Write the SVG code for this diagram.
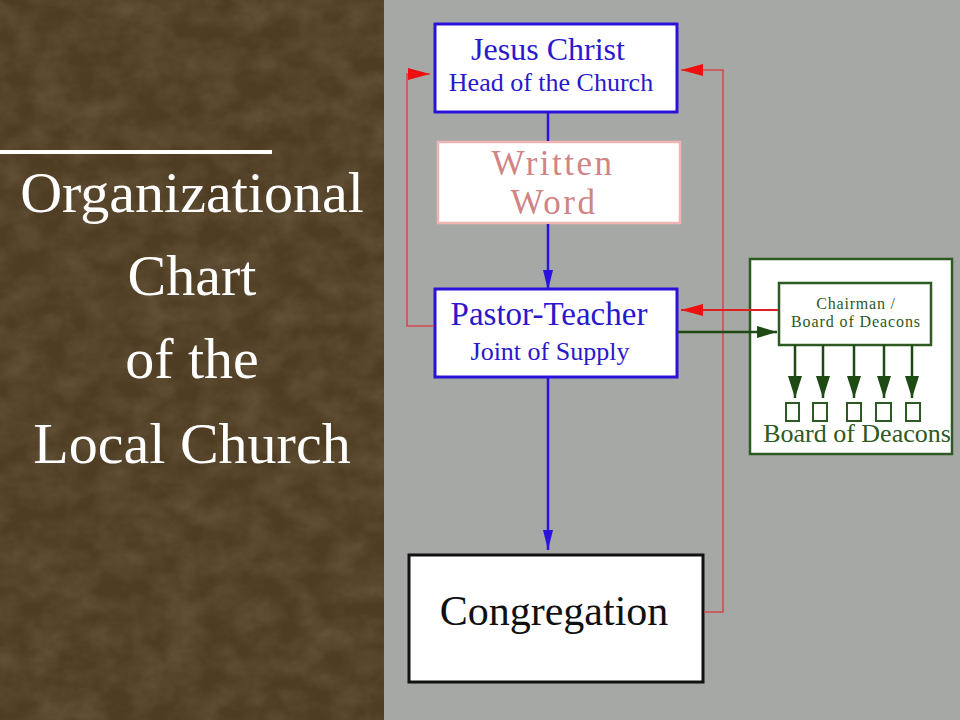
<svg xmlns="http://www.w3.org/2000/svg" width="960" height="720" viewBox="0 0 960 720">
<style>
.serif{font-family:"Liberation Serif","Times New Roman",serif}
.title{font-size:58px;fill:#ffffff;text-anchor:middle}
.blue{fill:#2a18cc;text-anchor:middle}
.green{fill:#2c5a22;text-anchor:middle}
.bline{stroke:#2a12e0;stroke-width:2.5;fill:none}
.rline{stroke:#d04848;stroke-width:1.5;fill:none}
.gline{stroke:#1e4a14;stroke-width:2.5;fill:none}
</style>
<defs>
<marker id="ab" viewBox="0 0 20 10" refX="20" refY="5" markerWidth="20" markerHeight="10" markerUnits="userSpaceOnUse" orient="auto"><path d="M0,0 L20,5 L0,10 z" fill="#2a12e0"/></marker>
<marker id="ar" viewBox="0 0 22 12" refX="22" refY="6" markerWidth="22" markerHeight="12" markerUnits="userSpaceOnUse" orient="auto"><path d="M0,0 L22,6 L0,12 z" fill="#ee1010"/></marker>
<marker id="ag" viewBox="0 0 20 12" refX="20" refY="6" markerWidth="20" markerHeight="12" markerUnits="userSpaceOnUse" orient="auto"><path d="M0,0 L20,6 L0,12 z" fill="#1e4a14"/></marker>
<marker id="agd" viewBox="0 0 22 14" refX="22" refY="7" markerWidth="22" markerHeight="14" markerUnits="userSpaceOnUse" orient="auto"><path d="M0,0 L22,7 L0,14 z" fill="#1e4a14"/></marker>
<filter id="tex" x="0" y="0" width="100%" height="100%">
<feTurbulence type="fractalNoise" baseFrequency="0.03 0.04" numOctaves="4" seed="7"/>
<feColorMatrix type="matrix" values="0 0 0 0 0.45  0 0 0 0 0.36  0 0 0 0 0.22  0 0 0 -1.4 1.0"/>
</filter>
</defs>
<rect x="0" y="0" width="384" height="720" fill="#4e3c23"/>
<rect x="0" y="0" width="384" height="720" filter="url(#tex)" opacity="0.25"/>
<rect x="384" y="0" width="576" height="720" fill="#a6a8a5"/>
<g id="title">
<rect x="0" y="150" width="272" height="4" fill="#ffffff"/>
<text class="serif title" x="192" y="212">Organizational</text>
<text class="serif title" x="192" y="295">Chart</text>
<text class="serif title" x="192" y="378">of the</text>
<text class="serif title" x="192" y="463">Local Church</text>
</g>
<g id="jesus">
<rect x="435" y="24" width="242" height="88" fill="#ffffff" stroke="#2a12d8" stroke-width="3"/>
<text class="serif blue" x="548" y="60" font-size="32">Jesus Christ</text>
<text class="serif blue" x="551" y="91" font-size="26">Head of the Church</text>
</g>
<g id="word">
<rect x="438" y="142" width="242" height="81" fill="#ffffff" stroke="#f0b4b4" stroke-width="2.5"/>
<text class="serif" x="553" y="175" font-size="35" fill="#d08484" text-anchor="middle" letter-spacing="2.5">Written</text>
<text class="serif" x="554" y="214" font-size="35" fill="#d08484" text-anchor="middle" letter-spacing="2.5">Word</text>
</g>
<g id="pastor">
<rect x="435" y="289" width="242" height="88" fill="#ffffff" stroke="#2a12d8" stroke-width="3"/>
<text class="serif blue" x="549" y="325" font-size="33">Pastor-Teacher</text>
<text class="serif blue" x="550" y="360" font-size="26">Joint of Supply</text>
</g>
<g id="deacons">
<rect x="750" y="259" width="202" height="195" fill="#ffffff" stroke="#2c5a22" stroke-width="2.5"/>
<rect x="779" y="283" width="152" height="62" fill="#ffffff" stroke="#2c5a22" stroke-width="2.5"/>
<text class="serif green" x="856" y="309" font-size="16" letter-spacing="0.8">Chairman /</text>
<text class="serif green" x="856" y="327" font-size="16" letter-spacing="0.9">Board of Deacons</text>
<g class="gline">
<line x1="795" y1="345" x2="795" y2="398" marker-end="url(#agd)"/>
<line x1="823" y1="345" x2="823" y2="398" marker-end="url(#agd)"/>
<line x1="854" y1="345" x2="854" y2="398" marker-end="url(#agd)"/>
<line x1="884" y1="345" x2="884" y2="398" marker-end="url(#agd)"/>
<line x1="912" y1="345" x2="912" y2="398" marker-end="url(#agd)"/>
</g>
<g fill="none" stroke="#2c5a22" stroke-width="2">
<rect x="786" y="403" width="13" height="18"/>
<rect x="813" y="403" width="14" height="18"/>
<rect x="847" y="403" width="14" height="18"/>
<rect x="876" y="403" width="15" height="18"/>
<rect x="906" y="403" width="14" height="18"/>
</g>
<text class="serif green" x="857" y="442" font-size="26">Board of Deacons</text>
</g>
<g id="congregation">
<rect x="409" y="555" width="294" height="127" fill="#ffffff" stroke="#111111" stroke-width="3"/>
<text class="serif" x="554" y="625" font-size="42" fill="#111111" text-anchor="middle">Congregation</text>
</g>
<g id="connectors">
<line class="bline" x1="548" y1="113" x2="548" y2="141"/>
<line class="bline" x1="548" y1="224" x2="548" y2="290" marker-end="url(#ab)"/>
<line class="bline" x1="548" y1="378" x2="548" y2="550" marker-end="url(#ab)"/>
<polyline class="rline" points="434,326 407,326 407,74 430,74" marker-end="url(#ar)"/>
<polyline class="rline" points="704,612 723,612 723,70 681,70" marker-end="url(#ar)"/>
<line stroke="#e02020" stroke-width="2" x1="778" y1="310" x2="681" y2="310" marker-end="url(#ar)"/>
<line class="gline" x1="678" y1="332" x2="777" y2="332" marker-end="url(#ag)"/>
</g>
</svg>
